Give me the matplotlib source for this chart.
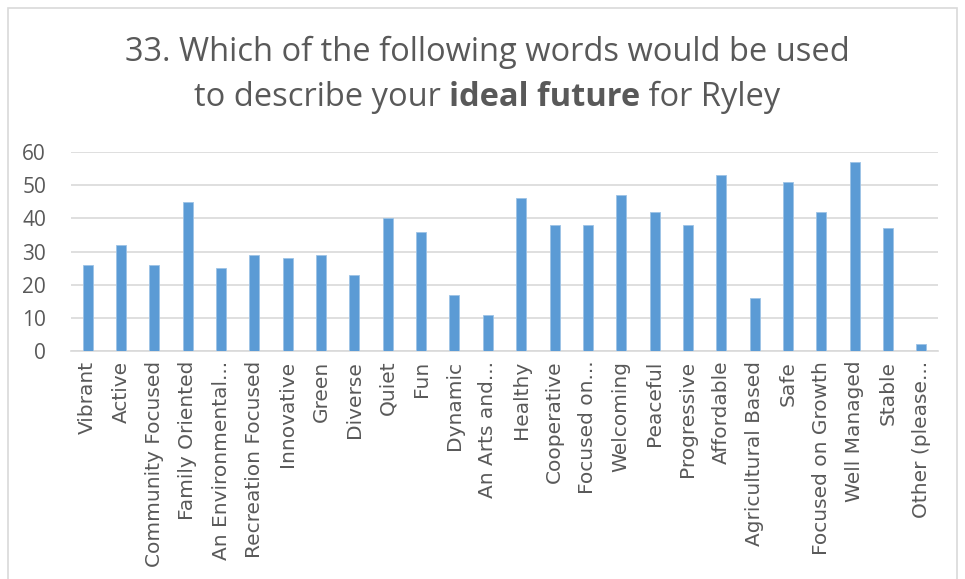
import matplotlib
matplotlib.use("Agg")
import matplotlib.pyplot as plt
from matplotlib.patches import Rectangle

categories = ["Vibrant", "Active", "Community Focused", "Family Oriented", "An Environmental...",
              "Recreation Focused", "Innovative", "Green", "Diverse", "Quiet", "Fun", "Dynamic",
              "An Arts and...", "Healthy", "Cooperative", "Focused on...", "Welcoming", "Peaceful",
              "Progressive", "Affordable", "Agricultural Based", "Safe", "Focused on Growth",
              "Well Managed", "Stable", "Other (please..."]
values = [26, 32, 26, 45, 25, 29, 28, 29, 23, 40, 36, 17, 11, 46, 38, 38, 47, 42, 38, 53, 16, 51, 42, 57, 37, 2]
yticks = [0, 10, 20, 30, 40, 50, 60]

W, H = 965, 579
fig = plt.figure(figsize=(W / 100, H / 100), dpi=100)
fig.patches.append(Rectangle((8 / W, -0.05), (957 - 8) / W, 1.05 - 8 / H, transform=fig.transFigure,
                             fill=False, edgecolor="#d9d9d9", linewidth=1.2))

ax = fig.add_axes([71 / W, 1 - 351 / H, (938 - 71) / W, (351 - 152) / H])
x = range(len(categories))
ax.bar(x, values, width=0.3, color="#5B9BD5", edgecolor="#9dc3e6", linewidth=0.6, zorder=3)
ax.set_xlim(-0.5, len(categories) - 0.5)
ax.set_ylim(0, 60)
ax.set_yticks(yticks)
ax.set_yticklabels([str(v) for v in yticks], fontsize=15, color="#595959", family="Open Sans")
ax.yaxis.grid(True, color="#d9d9d9", linewidth=1.2, zorder=0)
ax.set_axisbelow(True)
for s in ["top", "right", "left"]:
    ax.spines[s].set_visible(False)
ax.spines["bottom"].set_color("#d9d9d9")
ax.spines["bottom"].set_linewidth(1.2)
ax.tick_params(axis="y", length=0, pad=18)
ax.tick_params(axis="x", length=0, pad=7)
ax.set_xticks(list(x))
ax.set_xticklabels(categories, rotation=90, fontsize=14.5, color="#595959", family="DejaVu Sans")

fs = 23.5
col = "#595959"
fig.text(487 / W, 1 - 52 / H, "33. Which of the following words would be used",
         ha="center", va="center", fontsize=fs, color=col, family="Open Sans")

# second line with bold part
parts = [("to describe your ", "normal"), ("ideal future", "bold"), (" for Ryley", "normal")]
fig.canvas.draw()
renderer = fig.canvas.get_renderer()
texts = []
for s, wgt in parts:
    t = fig.text(0, 1 - 97 / H, s, ha="left", va="center", fontsize=fs, color=col,
                 family="Open Sans", fontweight=wgt)
    texts.append(t)
# measure widths including trailing spaces using a placeholder approach
widths = []
for (s, wgt), t in zip(parts, texts):
    probe = fig.text(0, 0, s.replace(" ", "\u00a0"), fontsize=fs, family="Open Sans", fontweight=wgt)
    bb = probe.get_window_extent(renderer)
    widths.append(bb.width)
    probe.remove()
total = sum(widths)
x0 = 487 - total / 2
for t, w in zip(texts, widths):
    t.set_x(x0 / W)
    x0 += w

fig.savefig("out.png", dpi=100)
